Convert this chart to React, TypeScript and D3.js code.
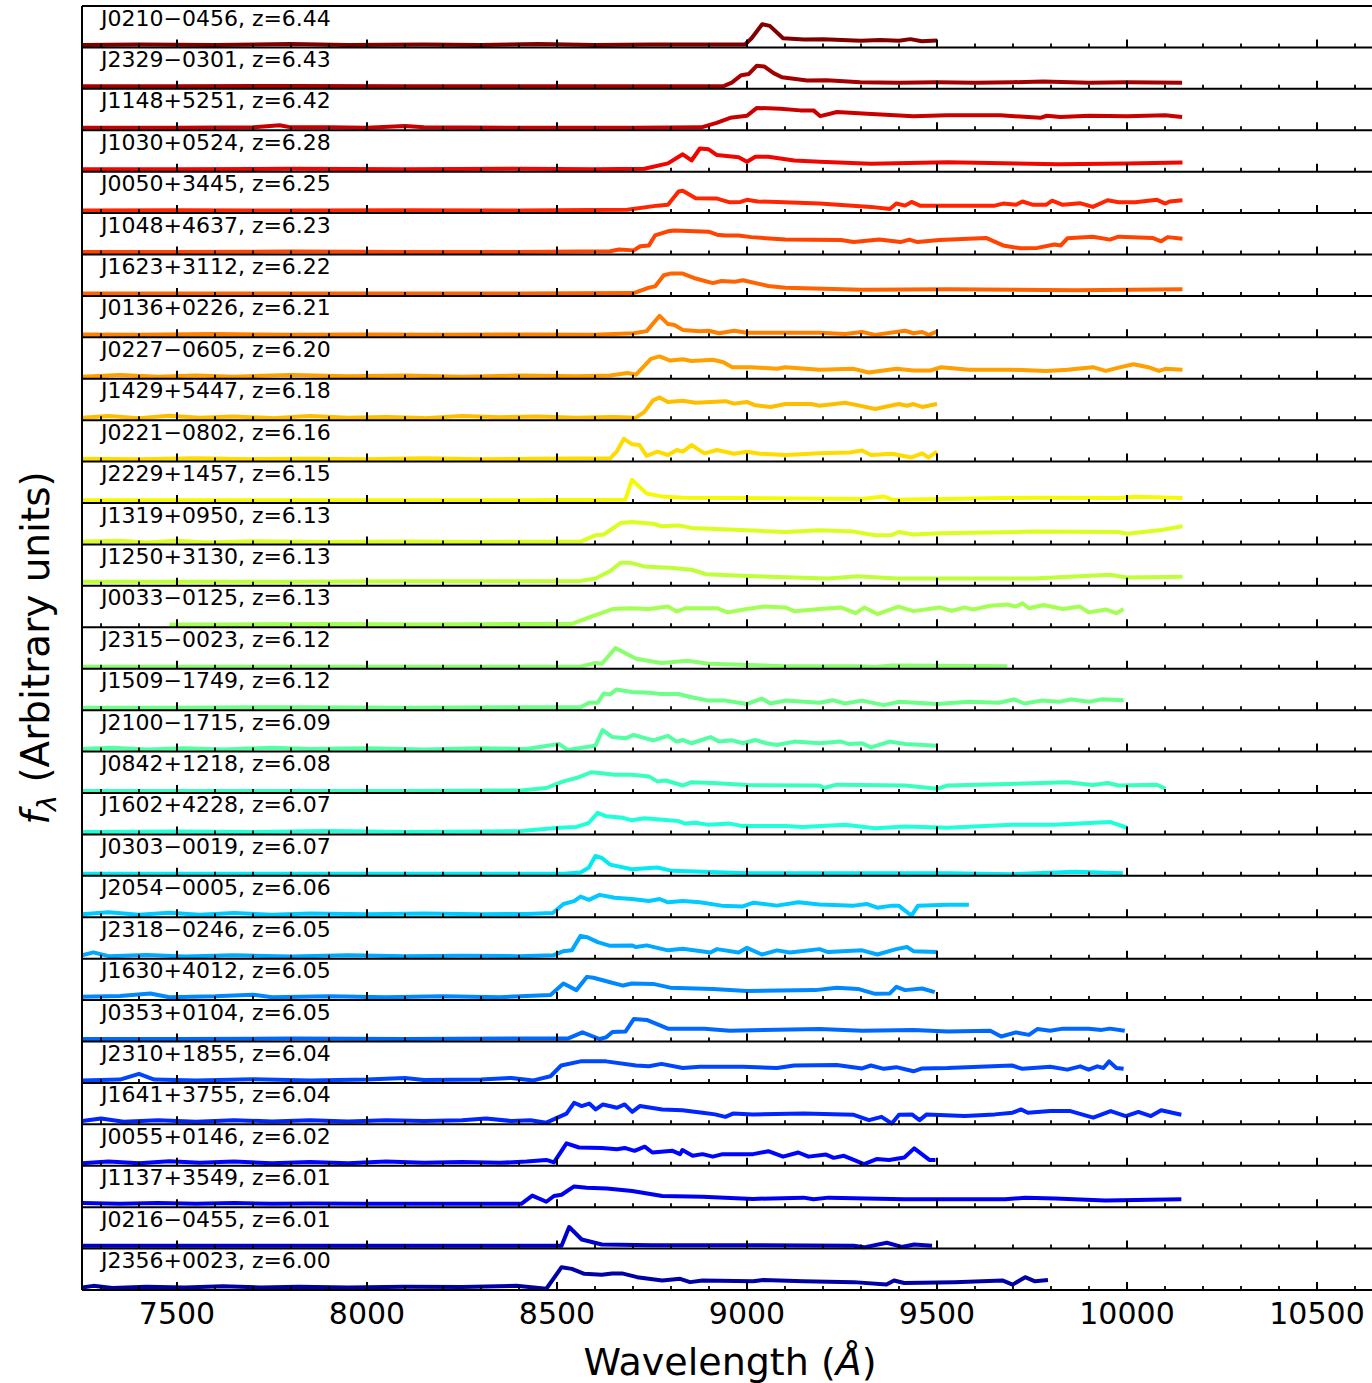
import React from "react";
import * as d3 from "d3";

// ---------- data ----------
const names: string[] = [
  "J0210\u22120456", "J2329\u22120301", "J1148+5251", "J1030+0524", "J0050+3445",
  "J1048+4637", "J1623+3112", "J0136+0226", "J0227\u22120605", "J1429+5447",
  "J0221\u22120802", "J2229+1457", "J1319+0950", "J1250+3130", "J0033\u22120125",
  "J2315\u22120023", "J1509\u22121749", "J2100\u22121715", "J0842+1218", "J1602+4228",
  "J0303\u22120019", "J2054\u22120005", "J2318\u22120246", "J1630+4012", "J0353+0104",
  "J2310+1855", "J1641+3755", "J0055+0146", "J1137+3549", "J0216\u22120455",
  "J2356+0023",
];
const redshifts: string[] = [
  "6.44", "6.43", "6.42", "6.28", "6.25", "6.23", "6.22", "6.21", "6.20", "6.18",
  "6.16", "6.15", "6.13", "6.13", "6.13", "6.12", "6.12", "6.09", "6.08", "6.07",
  "6.07", "6.06", "6.05", "6.05", "6.05", "6.04", "6.04", "6.02", "6.01", "6.01",
  "6.00",
];

// wavelength (Å), normalised flux (arbitrary units)
const specJ0210 = [[7250,.06],[7400,.07],[7600,.06],[7800,.08],[7950,.06],[8150,.07],[8300,.06],[8450,.08],[8600,.06],[8750,.07],[8900,.07],[8995,.07],[9012,.22],[9040,.56],[9060,.52],[9095,.22],[9150,.19],[9200,.2],[9250,.18],[9300,.16],[9350,.18],[9400,.16],[9430,.2],[9460,.15],[9500,.17]];
const specJ2329 = [[7250,.06],[7500,.06],[7800,.07],[8100,.06],[8400,.06],[8700,.06],[8940,.07],[8960,.15],[8985,.33],[9005,.36],[9026,.56],[9045,.54],[9070,.38],[9092,.28],[9158,.2],[9210,.21],[9298,.16],[9400,.15],[9500,.16],[9600,.15],[9700,.16],[9780,.18],[9900,.15],[10000,.16],[10145,.15]];
const specJ1148 = [[7250,.06],[7500,.06],[7700,.07],[7770,.12],[7800,.07],[7900,.07],[8000,.06],[8100,.1],[8150,.07],[8400,.06],[8700,.06],[8880,.07],[8920,.18],[8956,.3],[9000,.35],[9026,.54],[9088,.52],[9140,.48],[9175,.48],[9193,.34],[9237,.44],[9316,.4],[9438,.34],[9526,.36],[9667,.36],[9772,.3],[9789,.35],[9825,.32],[9900,.35],[10000,.34],[10100,.36],[10145,.32]];
const specJ1030 = [[7250,.06],[7500,.06],[7800,.07],[8100,.06],[8400,.07],[8600,.06],[8730,.07],[8792,.2],[8831,.42],[8854,.27],[8876,.56],[8899,.54],[8921,.4],[8978,.35],[9000,.24],[9022,.36],[9056,.36],[9124,.27],[9191,.24],[9326,.19],[9528,.23],[9820,.18],[10000,.2],[10146,.22]];
const specJ0050 = [[7250,.06],[7500,.07],[7800,.06],[8100,.07],[8400,.06],[8685,.08],[8764,.18],[8792,.2],[8820,.52],[8831,.54],[8865,.36],[8921,.35],[8955,.26],[8983,.27],[9000,.32],[9028,.28],[9079,.27],[9191,.23],[9326,.15],[9376,.1],[9393,.23],[9416,.18],[9433,.27],[9455,.18],[9584,.18],[9652,.18],[9674,.23],[9708,.2],[9725,.28],[9753,.2],[9787,.2],[9803,.3],[9831,.2],[9876,.24],[9910,.15],[9949,.31],[9978,.26],[10022,.26],[10079,.32],[10101,.23],[10112,.28],[10146,.31]];
const specJ1048 = [[7250,.06],[7500,.06],[7800,.07],[8100,.06],[8400,.06],[8640,.08],[8663,.12],[8702,.1],[8719,.2],[8742,.22],[8758,.46],[8792,.56],[8809,.58],[8899,.55],[8921,.48],[8944,.46],[8978,.46],[9011,.42],[9101,.36],[9247,.35],[9281,.3],[9348,.36],[9404,.3],[9427,.36],[9449,.3],[9506,.35],[9629,.4],[9674,.22],[9719,.15],[9764,.16],[9809,.24],[9826,.22],[9843,.39],[9910,.43],[9955,.36],[9978,.43],[10067,.4],[10090,.32],[10107,.42],[10146,.38]];
const specJ1623 = [[7250,.06],[7500,.06],[7800,.06],[8100,.06],[8400,.06],[8702,.07],[8742,.2],[8758,.23],[8781,.5],[8798,.54],[8831,.54],[8865,.42],[8910,.31],[8933,.36],[8966,.34],[8989,.38],[9056,.24],[9101,.2],[9303,.15],[9528,.16],[9865,.14],[10146,.16]];
const specJ0136 = [[7250,.07],[7400,.06],[7600,.08],[7800,.06],[8000,.07],[8200,.06],[8400,.07],[8600,.06],[8702,.1],[8736,.15],[8770,.52],[8792,.32],[8809,.3],[8831,.18],[8876,.15],[8899,.16],[8927,.1],[8966,.16],[9000,.11],[9191,.11],[9258,.08],[9303,.13],[9337,.06],[9416,.16],[9438,.1],[9461,.13],[9478,.06],[9500,.14]];
const specJ0227 = [[7250,.05],[7350,.09],[7450,.05],[7550,.08],[7650,.05],[7800,.09],[7950,.06],[8100,.08],[8250,.05],[8400,.08],[8550,.06],[8640,.08],[8685,.14],[8708,.1],[8747,.48],[8770,.54],[8798,.44],[8831,.47],[8854,.43],[8910,.46],[8938,.4],[8961,.28],[9011,.28],[9079,.24],[9101,.28],[9191,.22],[9281,.24],[9320,.15],[9393,.24],[9438,.2],[9483,.2],[9511,.28],[9584,.22],[9697,.22],[9787,.19],[9843,.22],[9910,.28],[9944,.19],[9978,.27],[10017,.35],[10056,.28],[10084,.19],[10101,.24],[10146,.22]];
const specJ1429 = [[7250,.06],[7320,.1],[7400,.05],[7480,.11],[7560,.06],[7650,.09],[7750,.05],[7850,.1],[7950,.06],[8050,.08],[8150,.05],[8250,.1],[8350,.07],[8450,.09],[8550,.06],[8650,.08],[8708,.06],[8730,.2],[8753,.48],[8770,.55],[8792,.44],[8831,.47],[8865,.42],[8944,.46],[8966,.4],[9000,.44],[9022,.36],[9062,.32],[9101,.39],[9169,.39],[9191,.35],[9258,.42],[9303,.34],[9337,.27],[9399,.39],[9421,.35],[9438,.39],[9461,.32],[9500,.39]];
const specJ0221 = [[7250,.07],[7400,.06],[7550,.08],[7700,.06],[7850,.07],[8000,.06],[8150,.08],[8300,.06],[8450,.07],[8640,.08],[8657,.24],[8676,.55],[8697,.42],[8717,.4],[8736,.14],[8764,.24],[8792,.16],[8815,.28],[8831,.24],[8854,.4],[8888,.2],[8921,.28],[8966,.19],[9000,.24],[9034,.19],[9101,.16],[9191,.2],[9270,.22],[9303,.27],[9326,.16],[9382,.19],[9433,.1],[9461,.2],[9478,.1],[9500,.24]];
const specJ2229 = [[7250,.07],[7500,.07],[7800,.07],[8100,.07],[8400,.07],[8680,.08],[8697,.56],[8736,.23],[8775,.16],[8831,.13],[8966,.12],[9303,.1],[9360,.16],[9382,.08],[9528,.1],[9753,.13],[9978,.12],[10022,.15],[10146,.12]];
const specJ1319 = [[7250,.07],[7350,.09],[7420,.05],[7500,.09],[7580,.05],[7700,.08],[7900,.06],[8100,.07],[8300,.06],[8562,.07],[8601,.22],[8623,.24],[8668,.52],[8697,.54],[8753,.5],[8775,.44],[8820,.46],[8854,.4],[9000,.34],[9101,.3],[9191,.34],[9281,.31],[9337,.22],[9382,.23],[9399,.3],[9438,.24],[9506,.27],[9753,.31],[9978,.3],[10000,.26],[10090,.35],[10146,.44]];
const specJ1250 = [[7250,.1],[7500,.1],[7800,.1],[8100,.11],[8400,.11],[8562,.12],[8601,.18],[8640,.36],[8668,.56],[8691,.56],[8730,.47],[8798,.44],[8854,.39],[8893,.28],[9000,.24],[9213,.18],[9292,.23],[9393,.18],[9753,.18],[9955,.27],[10000,.2],[10146,.22]];
const specJ0033 = [[7480,.07],[7650,.07],[7900,.08],[8150,.07],[8400,.08],[8539,.08],[8590,.26],[8646,.44],[8697,.46],[8742,.44],[8792,.5],[8815,.38],[8837,.46],[8921,.46],[8949,.36],[9000,.44],[9045,.5],[9101,.48],[9124,.39],[9191,.44],[9247,.48],[9286,.34],[9309,.48],[9343,.32],[9399,.5],[9438,.39],[9506,.48],[9539,.4],[9573,.48],[9595,.43],[9640,.52],[9685,.55],[9708,.5],[9725,.58],[9742,.46],[9781,.54],[9831,.44],[9876,.5],[9899,.36],[9944,.43],[9972,.34],[9991,.44]];
const specJ2315 = [[7250,.05],[7500,.05],[7800,.05],[8100,.05],[8400,.05],[8562,.05],[8601,.14],[8618,.12],[8654,.5],[8708,.24],[8775,.14],[8843,.19],[8899,.12],[9101,.06],[9303,.06],[9337,.04],[9382,.08],[9685,.06]];
const specJ1509 = [[7250,.06],[7500,.06],[7800,.07],[8100,.06],[8400,.07],[8562,.07],[8584,.18],[8607,.18],[8623,.4],[8640,.38],[8657,.5],[8697,.44],[8742,.42],[8775,.39],[8820,.39],[8854,.31],[8899,.23],[8944,.23],[9000,.15],[9039,.28],[9062,.16],[9101,.23],[9191,.18],[9225,.24],[9258,.16],[9303,.23],[9360,.12],[9399,.2],[9500,.15],[9584,.2],[9663,.18],[9703,.26],[9730,.16],[9775,.23],[9820,.2],[9854,.26],[9899,.2],[9933,.26],[9991,.24]];
const specJ2100 = [[7250,.06],[7330,.09],[7420,.05],[7520,.08],[7620,.05],[7750,.09],[7850,.06],[8000,.08],[8150,.05],[8300,.08],[8420,.06],[8506,.18],[8528,.04],[8601,.14],[8620,.52],[8646,.35],[8680,.32],[8702,.4],[8753,.27],[8792,.38],[8815,.24],[8831,.28],[8854,.2],[8904,.35],[8927,.24],[8961,.27],[8989,.2],[9022,.28],[9051,.2],[9079,.16],[9124,.24],[9191,.2],[9247,.24],[9270,.18],[9303,.2],[9326,.1],[9376,.24],[9416,.18],[9500,.14]];
const specJ0842 = [[7250,.05],[7500,.05],[7800,.05],[8100,.05],[8405,.06],[8472,.12],[8517,.28],[8551,.36],[8590,.5],[8612,.48],[8652,.44],[8697,.44],[8742,.4],[8764,.28],[8787,.3],[8831,.18],[8854,.26],[8910,.24],[9000,.19],[9191,.18],[9202,.12],[9236,.2],[9416,.18],[9500,.1],[9528,.18],[9775,.24],[9843,.26],[9910,.19],[9949,.24],[9978,.18],[10079,.2],[10101,.1]];
const specJ1602 = [[7250,.06],[7500,.07],[7700,.06],[7900,.08],[8100,.06],[8300,.07],[8405,.08],[8506,.16],[8551,.18],[8584,.28],[8607,.52],[8629,.44],[8674,.4],[8697,.34],[8730,.39],[8787,.35],[8820,.32],[8837,.26],[8865,.28],[8899,.23],[8955,.26],[8989,.2],[9101,.2],[9146,.18],[9258,.23],[9337,.15],[9416,.19],[9528,.16],[9697,.23],[9809,.23],[9955,.3],[10000,.16]];
const specJ0303 = [[7250,.05],[7500,.05],[7800,.05],[8100,.05],[8400,.05],[8517,.05],[8562,.08],[8584,.2],[8601,.48],[8618,.43],[8640,.27],[8697,.16],[8764,.2],[8803,.12],[9000,.06],[9303,.06],[9528,.06],[9697,.04],[9865,.1],[9989,.06]];
const specJ2054 = [[7250,.07],[7320,.12],[7400,.06],[7480,.11],[7560,.06],[7650,.1],[7750,.06],[7850,.09],[8000,.07],[8150,.09],[8300,.07],[8420,.08],[8489,.1],[8517,.32],[8545,.39],[8562,.5],[8584,.42],[8612,.54],[8652,.47],[8697,.44],[8742,.39],[8770,.44],[8792,.36],[8831,.39],[8876,.36],[8933,.28],[8989,.26],[9017,.35],[9079,.28],[9135,.36],[9191,.31],[9281,.28],[9315,.32],[9343,.23],[9382,.28],[9399,.28],[9433,.04],[9450,.28],[9528,.3],[9584,.3]];
const specJ2318 = [[7250,.08],[7280,.15],[7320,.06],[7420,.09],[7520,.05],[7650,.08],[7800,.05],[7950,.08],[8100,.06],[8250,.07],[8400,.06],[8490,.08],[8517,.18],[8539,.2],[8562,.55],[8579,.52],[8607,.4],[8640,.31],[8697,.32],[8708,.28],[8736,.32],[8792,.2],[8831,.24],[8904,.15],[8921,.23],[8978,.15],[9000,.26],[9039,.1],[9079,.2],[9113,.15],[9191,.23],[9213,.16],[9303,.2],[9343,.1],[9393,.23],[9421,.28],[9438,.18],[9500,.16]];
const specJ1630 = [[7250,.08],[7350,.1],[7430,.16],[7480,.07],[7600,.09],[7700,.13],[7750,.07],[7900,.09],[8050,.07],[8200,.09],[8350,.07],[8483,.12],[8517,.4],[8551,.24],[8579,.56],[8596,.54],[8640,.43],[8674,.35],[8697,.4],[8753,.39],[8798,.3],[8910,.27],[9000,.22],[9180,.24],[9236,.3],[9292,.27],[9337,.15],[9376,.16],[9393,.32],[9416,.24],[9461,.28],[9494,.19]];
const specJ0353 = [[7250,.06],[7500,.06],[7800,.07],[8100,.06],[8400,.07],[8528,.07],[8567,.22],[8612,.06],[8629,.1],[8646,.23],[8680,.24],[8702,.54],[8736,.52],[8792,.31],[8888,.31],[8955,.26],[9191,.3],[9303,.26],[9438,.28],[9528,.24],[9640,.26],[9669,.12],[9708,.22],[9742,.16],[9764,.3],[9798,.26],[9831,.31],[9899,.31],[9933,.28],[9955,.31],[9994,.26]];
const specJ2310 = [[7250,.06],[7350,.08],[7400,.22],[7440,.08],[7550,.06],[7700,.09],[7850,.06],[8000,.08],[8100,.12],[8150,.07],[8300,.08],[8380,.12],[8438,.06],[8483,.16],[8511,.42],[8562,.52],[8629,.52],[8708,.42],[8742,.4],[8775,.46],[8831,.36],[8876,.39],[8989,.39],[9079,.36],[9124,.42],[9236,.43],[9303,.35],[9326,.42],[9360,.34],[9393,.38],[9438,.28],[9461,.35],[9528,.36],[9697,.42],[9725,.34],[9798,.39],[9843,.32],[9877,.4],[9899,.32],[9922,.4],[9938,.36],[9953,.52],[9972,.36],[9991,.34]];
const specJ1641 = [[7250,.08],[7300,.14],[7360,.06],[7450,.1],[7550,.06],[7650,.1],[7750,.07],[7850,.1],[7950,.07],[8050,.1],[8150,.08],[8250,.1],[8313,.14],[8380,.08],[8430,.1],[8472,.04],[8525,.26],[8545,.52],[8565,.44],[8585,.5],[8602,.36],[8621,.48],[8658,.4],[8678,.48],[8698,.3],[8718,.44],[8777,.36],[8830,.34],[8883,.28],[8916,.24],[8943,.18],[8963,.26],[9016,.24],[9149,.26],[9281,.23],[9321,.1],[9354,.18],[9381,.02],[9400,.23],[9434,.24],[9454,.1],[9473,.24],[9573,.2],[9652,.24],[9699,.28],[9721,.36],[9739,.28],[9798,.32],[9851,.32],[9911,.16],[9957,.32],[9997,.2],[10030,.3],[10063,.2],[10090,.34],[10143,.23]];
const specJ0055 = [[7250,.06],[7320,.1],[7400,.06],[7480,.11],[7560,.07],[7650,.1],[7750,.06],[7850,.09],[7950,.06],[8050,.1],[8150,.07],[8250,.09],[8350,.07],[8420,.1],[8472,.14],[8492,.08],[8525,.54],[8558,.44],[8618,.43],[8658,.4],[8678,.43],[8704,.36],[8731,.46],[8751,.32],[8804,.36],[8824,.28],[8830,.38],[8857,.24],[8883,.28],[8910,.22],[8936,.28],[9016,.28],[9056,.35],[9095,.22],[9135,.32],[9162,.22],[9208,.27],[9228,.19],[9255,.24],[9281,.14],[9308,.04],[9341,.16],[9374,.14],[9414,.2],[9440,.42],[9480,.14],[9496,.14]];
const specJ1137 = [[7250,.1],[7350,.08],[7450,.1],[7550,.08],[7650,.1],[7750,.08],[7850,.09],[8000,.08],[8200,.08],[8406,.08],[8435,.28],[8472,.13],[8492,.27],[8512,.3],[8545,.5],[8578,.47],[8631,.45],[8698,.39],[8777,.27],[8883,.25],[9016,.2],[9149,.23],[9175,.19],[9215,.23],[9414,.19],[9679,.19],[9732,.23],[9811,.21],[9943,.16],[10143,.19]];
const specJ0216 = [[7250,.07],[7500,.07],[7800,.07],[8100,.07],[8300,.07],[8512,.07],[8532,.52],[8565,.22],[8618,.1],[8751,.08],[9016,.08],[9281,.07],[9308,.03],[9368,.14],[9407,.04],[9440,.1],[9487,.07]];
const specJ2356 = [[7250,.06],[7280,.1],[7330,.05],[7420,.08],[7520,.06],[7620,.09],[7720,.06],[7820,.08],[7950,.06],[8100,.08],[8250,.07],[8393,.1],[8472,.03],[8512,.55],[8539,.51],[8572,.39],[8618,.37],[8645,.4],[8671,.4],[8711,.31],[8777,.23],[8824,.27],[8850,.19],[8883,.23],[9016,.21],[9043,.24],[9149,.21],[9281,.19],[9367,.13],[9387,.23],[9414,.17],[9546,.19],[9672,.23],[9699,.13],[9732,.31],[9758,.21],[9792,.24]];

const spectra: number[][][] = [
  specJ0210, specJ2329, specJ1148, specJ1030, specJ0050, specJ1048, specJ1623,
  specJ0136, specJ0227, specJ1429, specJ0221, specJ2229, specJ1319, specJ1250,
  specJ0033, specJ2315, specJ1509, specJ2100, specJ0842, specJ1602, specJ0303,
  specJ2054, specJ2318, specJ1630, specJ0353, specJ2310, specJ1641, specJ0055,
  specJ1137, specJ0216, specJ2356,
];

const majorTicks = [7500, 8000, 8500, 9000, 9500, 10000, 10500];
const xDomain = [7250, 10750];

// ---------- layout ----------
const W = 1372;
const H = 1383;
const LEFT = 82;
const TOP = 6;
const BOTTOM = 1290;
const FONT = "DejaVu Sans, sans-serif";

// matplotlib "jet"
const jetR = d3.scaleLinear().domain([0, 0.35, 0.66, 0.89, 1]).range([0, 0, 1, 1, 0.5]).clamp(true);
const jetG = d3.scaleLinear().domain([0, 0.125, 0.375, 0.64, 0.91, 1]).range([0, 0, 1, 1, 0, 0]).clamp(true);
const jetB = d3.scaleLinear().domain([0, 0.11, 0.34, 0.65, 1]).range([0.5, 1, 1, 0, 0]).clamp(true);
const jet = (t: number) =>
  d3.rgb(Math.round(jetR(t) * 255), Math.round(jetG(t) * 255), Math.round(jetB(t) * 255)).formatHex();

export default function App() {
  const n = spectra.length;
  const x = d3.scaleLinear().domain(xDomain).range([LEFT, LEFT + (xDomain[1] - xDomain[0]) * 0.38]);
  const band = (BOTTOM - TOP) / n;
  const minorTicks = d3.range(7300, 10800, 100).filter((v) => v % 500 !== 0);

  return (
    <div style={{ position: "absolute", left: 0, top: 0 }}>
      <svg width={W} height={H} style={{ display: "block", background: "#fff" }}>
        <defs>
          <clipPath id="plotclip">
            <rect x={LEFT} y={0} width={W - LEFT} height={H} />
          </clipPath>
        </defs>
        {spectra.map((sp, i) => {
          const top = TOP + i * band;
          const bottom = top + band;
          const y = d3.scaleLinear().domain([0, 1]).range([bottom, top]);
          const line = d3
            .line<number[]>()
            .x((d) => x(d[0]))
            .y((d) => y(d[1]));
          const color = jet((n - i) / n);
          return (
            <g key={i}>
              <path
                d={line(sp) || ""}
                fill="none"
                stroke={color}
                strokeWidth={4}
                strokeLinejoin="round"
                clipPath="url(#plotclip)"
              />
              <line x1={LEFT} x2={W} y1={bottom} y2={bottom} stroke="#000" strokeWidth={2} />
              {majorTicks.map((t) => (
                <line key={"M" + t} x1={x(t)} x2={x(t)} y1={bottom} y2={bottom - 8} stroke="#000" strokeWidth={2} />
              ))}
              {minorTicks.map((t) => (
                <line key={"m" + t} x1={x(t)} x2={x(t)} y1={bottom} y2={bottom - 4} stroke="#000" strokeWidth={1.8} />
              ))}
              <text x={101} y={top + 19.5} fontFamily={FONT} fontSize={22} fill="#000">
                {`${names[i]}, z=${redshifts[i]}`}
              </text>
            </g>
          );
        })}
        <line x1={LEFT} x2={W} y1={TOP} y2={TOP} stroke="#000" strokeWidth={2} />
        <line x1={LEFT} x2={LEFT} y1={TOP} y2={BOTTOM} stroke="#000" strokeWidth={2} />
        {majorTicks.map((t) => (
          <text key={"l" + t} x={x(t)} y={1324} textAnchor="middle" fontFamily={FONT} fontSize={30} fill="#000">
            {t}
          </text>
        ))}
        <text x={730} y={1375} textAnchor="middle" fontFamily={FONT} fontSize={38} fill="#000">
          Wavelength (<tspan fontStyle="italic">Å</tspan>)
        </text>
        <text
          transform="translate(49,648) rotate(-90)"
          textAnchor="middle"
          fontFamily={FONT}
          fontSize={39}
          fill="#000"
        >
          <tspan fontStyle="italic">f</tspan>
          <tspan fontStyle="italic" fontSize={27} dy={7}>λ</tspan>
          <tspan dy={-7}> (Arbitrary units)</tspan>
        </text>
      </svg>
    </div>
  );
}
